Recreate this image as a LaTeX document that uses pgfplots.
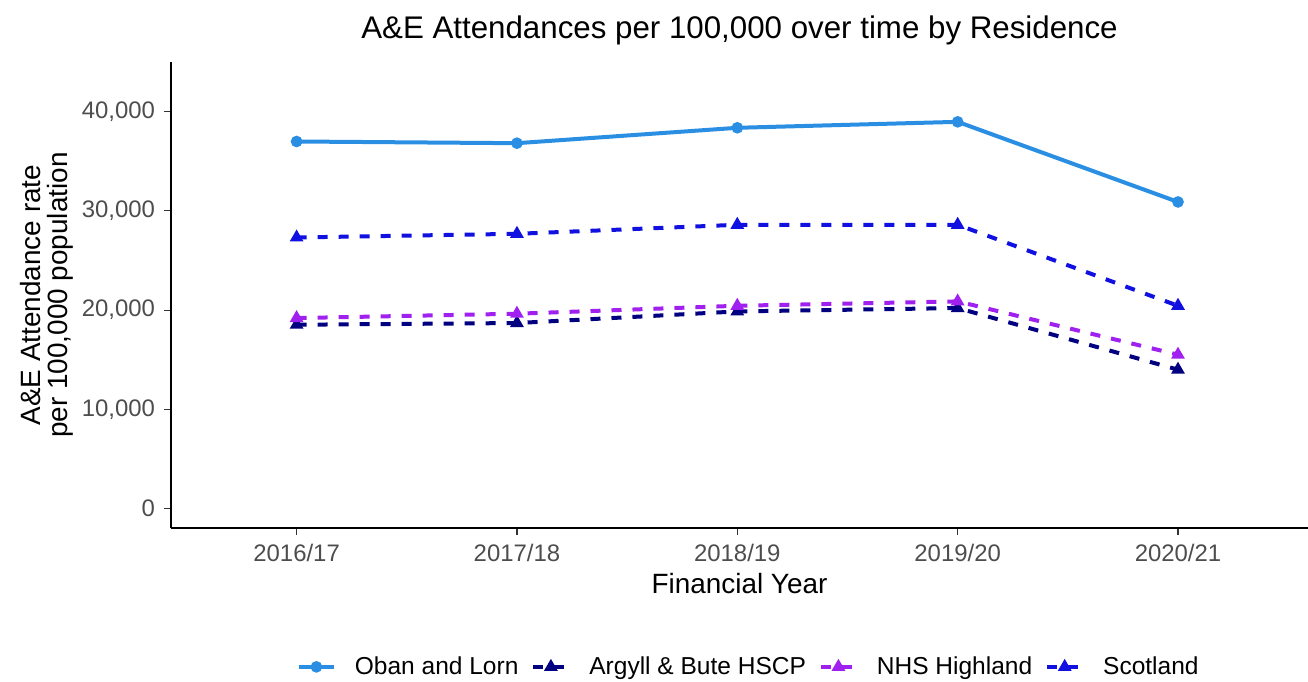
\documentclass[border=0pt]{standalone}
\usepackage{pgfplots}
\pgfplotsset{compat=1.18}
\usepackage{fontspec}
\setmainfont{Liberation Sans}
\definecolor{oban}{HTML}{2A8FE3}
\definecolor{argyll}{HTML}{000080}
\definecolor{nhsh}{HTML}{A020F0}
\definecolor{scot}{HTML}{1010E0}
\definecolor{ticktext}{HTML}{4D4D4D}
\begin{document}
\begin{tikzpicture}
\begin{axis}[
    scale only axis, width=568.5bp, height=233bp,
    xmin=-0.57, xmax=4.59, ymin=-1950, ymax=45000,
    axis x line*=bottom, axis y line*=left,
    axis line style={-, black, line width=0.7bp},
    xtick={0,1,2,3,4},
    xticklabels={2016/17,2017/18,2018/19,2019/20,2020/21},
    ytick={0,10000,20000,30000,40000},
    scaled y ticks=false,
    /pgf/number format/fixed,
    /pgf/number format/1000 sep={,},
    /pgf/number format/assume math mode=true,
    tick align=outside, major tick length=3.5bp,
    tick style={black!80, line width=0.6bp},
    ticklabel style={font=\fontsize{12}{14}\selectfont, text=ticktext},
    xticklabel style={yshift=-1bp},
    yticklabel style={xshift=-1bp},
    title={A\&E Attendances per 100,000 over time by Residence},
    every axis title shift=0pt,
    title style={at={(0.5,1)}, anchor=center, yshift=16bp, font=\fontsize{15.7}{18}\selectfont},
    xlabel={Financial Year},
    ylabel={A\&E Attendance rate\\per 100,000 population},
    every axis x label/.style={at={(axis description cs:0.5,0)}, anchor=center, yshift=-28bp, font=\fontsize{14}{16}\selectfont},
    every axis y label/.style={at={(axis description cs:0,0.5)}, anchor=center, xshift=-62bp, rotate=90, align=center, font=\fontsize{14}{13.5}\selectfont},
    legend columns=4,
    legend style={at={(0.509,-0.298)}, anchor=center, draw=none, fill=none,
        font=\fontsize{12.3}{14}\selectfont,
        /tikz/every odd column/.append style={column sep=7.5bp},
        /tikz/every even column/.append style={column sep=4.5bp}},
    legend image code/.code={\draw[mark repeat=2,mark phase=2,#1] plot coordinates {(0bp,0bp)(8.75bp,0bp)(17.5bp,0bp)};},
]
\addplot[oban, line width=2bp, mark=*, mark size=2.4bp, mark options={solid, line width=1bp}]
    coordinates {(0,36990) (1,36820) (2,38370) (3,38970) (4,30900)};
\addlegendentry{Oban and Lorn}
\addplot[argyll, line width=2bp, dash pattern=on 5bp off 5.5bp, mark=triangle*, mark size=3bp, mark options={solid, line width=1bp}]
    coordinates {(0,18530) (1,18700) (2,19870) (3,20210) (4,14000)};
\addlegendentry{Argyll \& Bute HSCP}
\addplot[nhsh, line width=2bp, dash pattern=on 5bp off 5.5bp, mark=triangle*, mark size=3bp, mark options={solid, line width=1bp}]
    coordinates {(0,19200) (1,19640) (2,20440) (3,20880) (4,15510)};
\addlegendentry{NHS Highland}
\addplot[scot, line width=2bp, dash pattern=on 5bp off 5.5bp, mark=triangle*, mark size=3bp, mark options={solid, line width=1bp}]
    coordinates {(0,27320) (1,27690) (2,28600) (3,28600) (4,20440)};
\addlegendentry{Scotland}
\end{axis}
\pgfresetboundingbox
\useasboundingbox ([shift={(-85.5bp,-77bp)}]current axis.south west) rectangle ([shift={(0bp,31bp)}]current axis.north east);
\end{tikzpicture}
\end{document}
